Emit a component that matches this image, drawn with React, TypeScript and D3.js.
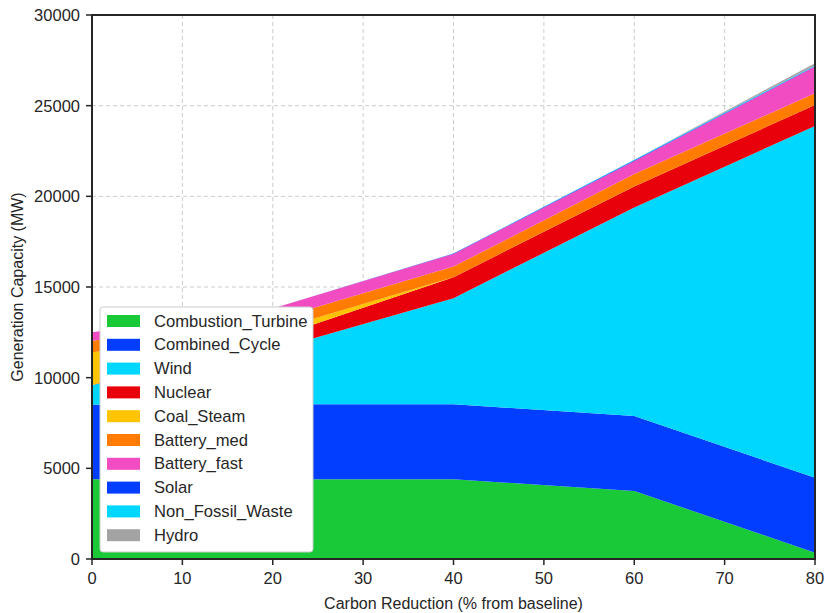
import React from "react";
import * as d3 from "d3";

const xValues = [0, 20, 40, 60, 80];
const combustionTurbine = [4400, 4400, 4400, 3750, 350];
const combinedCycle = [4100, 4130, 4130, 4140, 4130];
const wind = [1100, 3000, 5850, 11500, 19400];
const nuclear = [0, 650, 1160, 1150, 1160];
const coalSteam = [1800, 410, 0, 0, 0];
const batteryMed = [640, 590, 585, 690, 645];
const batteryFast = [460, 630, 700, 720, 1470];
const solar = [0, 0, 20, 40, 30];
const nonFossilWaste = [0, 0, 0, 30, 30];
const hydro = [0, 0, 0, 0, 130];

const seriesNames = [
  "Combustion_Turbine",
  "Combined_Cycle",
  "Wind",
  "Nuclear",
  "Coal_Steam",
  "Battery_med",
  "Battery_fast",
  "Solar",
  "Non_Fossil_Waste",
  "Hydro",
];
const seriesValues = [
  combustionTurbine,
  combinedCycle,
  wind,
  nuclear,
  coalSteam,
  batteryMed,
  batteryFast,
  solar,
  nonFossilWaste,
  hydro,
];
const colors = [
  "#1ac938",
  "#023eff",
  "#00d7ff",
  "#e8000b",
  "#ffc400",
  "#ff7c00",
  "#f14cc1",
  "#023eff",
  "#00d7ff",
  "#a3a3a3",
];
const xTicks = [0, 10, 20, 30, 40, 50, 60, 70, 80];
const yTicks = [0, 5000, 10000, 15000, 20000, 25000, 30000];

const W = 825;
const H = 613;
const left = 92;
const right = 815;
const top = 15;
const bottom = 559;
const font = "'Liberation Sans', Arial, sans-serif";
const textColor = "#262626";

export default function App() {
  const x = d3.scaleLinear().domain([0, 80]).range([left, right]);
  const y = d3.scaleLinear().domain([0, 30000]).range([bottom, top]);

  const table = xValues.map((xv, i) => {
    const row: any = { x: xv };
    seriesNames.forEach((n, k) => (row[n] = seriesValues[k][i]));
    return row;
  });
  const stacked = d3.stack<any>().keys(seriesNames)(table);
  const area = d3
    .area<any>()
    .x((d) => x(d.data.x))
    .y0((d) => y(d[0]))
    .y1((d) => y(d[1]));

  const legX = 100;
  const legY = 307;
  const rowH = 23.8;

  return (
    <svg
      width={W}
      height={H}
      style={{ position: "absolute", left: 0, top: 0, background: "#fff" }}
    >
      {/* grid */}
      {xTicks.map((t) => (
        <line
          key={"gx" + t}
          x1={x(t)}
          x2={x(t)}
          y1={top}
          y2={bottom}
          stroke="#cccccc"
          strokeWidth={1}
          strokeDasharray="4,3"
        />
      ))}
      {yTicks.map((t) => (
        <line
          key={"gy" + t}
          x1={left}
          x2={right}
          y1={y(t)}
          y2={y(t)}
          stroke="#cccccc"
          strokeWidth={1}
          strokeDasharray="4,3"
        />
      ))}
      {/* areas */}
      {stacked.map((s, k) => (
        <path key={s.key} d={area(s) || ""} fill={colors[k]} stroke="none" />
      ))}
      {/* spines */}
      <rect
        x={left}
        y={top}
        width={right - left}
        height={bottom - top}
        fill="none"
        stroke={textColor}
        strokeWidth={2}
      />
      {/* y ticks */}
      {yTicks.map((t) => (
        <g key={"ty" + t}>
          <line x1={left - 6} x2={left} y1={y(t)} y2={y(t)} stroke={textColor} strokeWidth={1.5} />
          <text
            x={left - 12}
            y={y(t)}
            textAnchor="end"
            dominantBaseline="central"
            fontFamily={font}
            fontSize={16.5}
            fill={textColor}
          >
            {t}
          </text>
        </g>
      ))}
      {/* x ticks */}
      {xTicks.map((t) => (
        <g key={"tx" + t}>
          <line x1={x(t)} x2={x(t)} y1={bottom} y2={bottom + 6} stroke={textColor} strokeWidth={1.5} />
          <text
            x={x(t)}
            y={bottom + 19}
            textAnchor="middle"
            dominantBaseline="central"
            fontFamily={font}
            fontSize={16.5}
            fill={textColor}
          >
            {t}
          </text>
        </g>
      ))}
      <text
        x={(left + right) / 2}
        y={603}
        textAnchor="middle"
        dominantBaseline="central"
        fontFamily={font}
        fontSize={16}
        fill={textColor}
      >
        Carbon Reduction (% from baseline)
      </text>
      <text
        transform={`translate(17,${(top + bottom) / 2}) rotate(-90)`}
        textAnchor="middle"
        dominantBaseline="central"
        fontFamily={font}
        fontSize={16}
        fill={textColor}
      >
        Generation Capacity (MW)
      </text>
      {/* legend */}
      <rect
        x={legX}
        y={legY}
        width={213}
        height={245}
        rx={3}
        fill="#ffffff"
        stroke="#cccccc"
        strokeWidth={1}
      />
      {seriesNames.map((n, k) => (
        <g key={"lg" + n}>
          <rect
            x={legX + 7}
            y={legY + 8 + k * rowH}
            width={33}
            height={12}
            fill={colors[k]}
          />
          <text
            x={legX + 54}
            y={legY + 14 + k * rowH}
            dominantBaseline="central"
            fontFamily={font}
            fontSize={16.6}
            fill={textColor}
          >
            {n}
          </text>
        </g>
      ))}
    </svg>
  );
}
